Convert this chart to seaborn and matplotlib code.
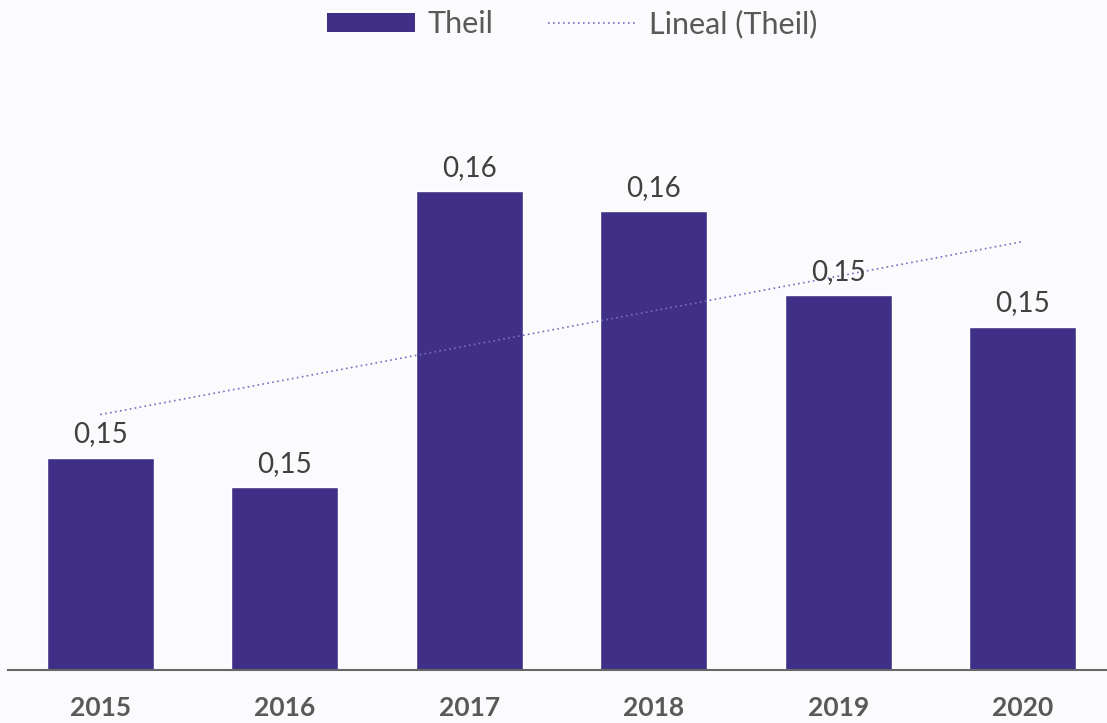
import matplotlib
matplotlib.use("Agg")
import matplotlib.pyplot as plt
import seaborn as sns
import numpy as np
import pandas as pd
from matplotlib.patches import Patch
from matplotlib.lines import Line2D

years = ["2015", "2016", "2017", "2018", "2019", "2020"]
theil = [0.1474, 0.1461, 0.1592, 0.1583, 0.1546, 0.1532]

BAR = "#3F2F86"
TREND = "#7A6CC0"
BG = "#FBFBFD"

sns.set_theme(style="white")
plt.rcParams["font.family"] = ["Lato", "DejaVu Sans"]

W, H = 1107, 723
fig = plt.figure(figsize=(W / 100, H / 100), dpi=100, facecolor=BG)
ax = fig.add_axes([8 / W, (H - 670) / H, (1115 - 8) / W, 610 / H])
ax.set_facecolor(BG)

df = pd.DataFrame({"year": years, "theil": theil})
sns.barplot(data=df, x="year", y="theil", color=BAR, width=0.58,
            saturation=1, ax=ax)

ax.set_ylim(0.138, 0.165)
ax.set_xlim(-0.5, 5.5)

# trend line
xs = np.arange(len(years))
k, b = np.polyfit(xs, theil, 1)
ax.plot(xs, k * xs + b, linestyle=(0, (1, 2)), color=TREND, lw=1.2)

for i, v in enumerate(theil):
    ax.annotate(f"{v:.2f}".replace(".", ","), (i, v), xytext=(0, 11),
                textcoords="offset points", ha="center", va="baseline",
                fontsize=20, color="#404040")

for s in ["top", "right", "left"]:
    ax.spines[s].set_visible(False)
ax.spines["bottom"].set_color("#666666")
ax.spines["bottom"].set_linewidth(1.5)
ax.set_yticks([])
ax.set_xlabel("")
ax.set_ylabel("")
ax.tick_params(axis="x", length=0, pad=19, labelsize=19, labelcolor="#595959")
for t in ax.get_xticklabels():
    t.set_fontweight("bold")

handles = [Patch(facecolor=BAR, edgecolor="none"),
           Line2D([0], [0], color=TREND, linestyle=(0, (1, 2)), lw=1.2)]
fig.legend(handles, ["Theil", "Lineal (Theil)"], loc="upper center",
           bbox_to_anchor=(572 / W, 1.025), ncol=2, frameon=False,
           fontsize=22, labelcolor="#595959", handlelength=2.9,
           handleheight=0.6, columnspacing=1.8, handletextpad=0.4)

fig.savefig("out.png", dpi=100, facecolor=BG)
